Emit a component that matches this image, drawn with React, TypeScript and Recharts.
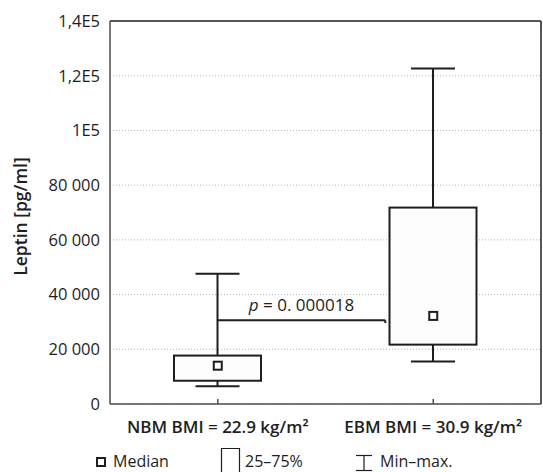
import { ComposedChart, Bar, Scatter, XAxis, YAxis, CartesianGrid, ReferenceLine, Legend } from "recharts";

const groups = ["NBM BMI = 22.9 kg/m²", "EBM BMI = 30.9 kg/m²"];
const groupPos = [1, 3];
const xDomain = [0, 4];
const minValues = [6500, 15500];
const q1Values = [8500, 21700];
const medianValues = [14000, 32200];
const q3Values = [17700, 71800];
const maxValues = [47600, 122600];

const yTicks = [0, 20000, 40000, 60000, 80000, 100000, 120000, 140000];
const yTickLabels = ["0", "20 000", "40 000", "60 000", "80 000", "1E5", "1,2E5", "1,4E5"];

const pText = " = 0. 000018";
const pLevel = 30600;
const pEnd = 2.555;

const legendLabels = ["Median", "25–75%", "Min–max."];

const INK = "#1e1e1e";
const FRAME = "#4d4d4d";

const data = groups.map((name, i) => ({
  name,
  pos: groupPos[i],
  base: minValues[i],
  lower: q1Values[i] - minValues[i],
  box: q3Values[i] - q1Values[i],
  upper: maxValues[i] - q3Values[i],
  median: medianValues[i],
}));

const LowerWhisker = (props: any) => {
  const { x, y, width, height } = props;
  const cx = x + width / 2;
  return (
    <g>
      <line x1={cx} x2={cx} y1={y} y2={y + height} stroke={INK} strokeWidth={2} />
      <line x1={cx - 22} x2={cx + 22} y1={y + height} y2={y + height} stroke={INK} strokeWidth={2} />
    </g>
  );
};

const UpperWhisker = (props: any) => {
  const { x, y, width, height } = props;
  const cx = x + width / 2;
  return (
    <g>
      <line x1={cx} x2={cx} y1={y} y2={y + height} stroke={INK} strokeWidth={2} />
      <line x1={cx - 22} x2={cx + 22} y1={y} y2={y} stroke={INK} strokeWidth={2} />
    </g>
  );
};

const BoxShape = (props: any) => {
  const { x, y, width, height } = props;
  return <rect x={x} y={y} width={width} height={height} fill="#fdfdfd" stroke={INK} strokeWidth={2} />;
};

const MedianMark = (props: any) => {
  const { cx, cy } = props;
  return <rect x={cx - 4} y={cy - 4} width={8} height={8} fill="#fff" stroke={INK} strokeWidth={2} />;
};

const EmptyTick = () => <g />;

const GroupTick = (props: any) => {
  const { x, y, payload } = props;
  const i = groupPos.indexOf(payload.value);
  return (
    <g>
      <line x1={x} x2={x} y1={y} y2={y - 5} stroke={FRAME} strokeWidth={1.5} />
      <text x={x} y={y + 29} textAnchor="middle" fontSize={17} fontWeight={600} fill={INK}>
        {groups[i]}
      </text>
    </g>
  );
};

const YLabel = (props: any) => {
  const { viewBox } = props;
  const cy = viewBox.y + viewBox.height / 2 + 4;
  return (
    <text x={27} y={cy} transform={`rotate(-90 27 ${cy})`} textAnchor="middle" fontSize={17.5} fontWeight={600} fill={INK}>
      Leptin [pg/ml]
    </text>
  );
};

const PLabel = (props: any) => {
  const { viewBox } = props;
  const cx = viewBox.x + viewBox.width / 2;
  return (
    <text x={cx} y={viewBox.y - 9} textAnchor="middle" fontSize={17} fill={INK}>
      <tspan fontStyle="italic">p</tspan>
      {pText}
    </text>
  );
};

const LegendContent = () => (
  <div style={{ position: "relative", height: 33, color: INK }}>
    <svg width={543} height={33} style={{ position: "absolute", left: 0, top: 0, overflow: "visible" }}>
      <rect x={97} y={19} width={8} height={8} fill="#fff" stroke={INK} strokeWidth={2} />
      <path d="M221.5 34 V9.5 H239.5 V34" fill="none" stroke={INK} strokeWidth={1.2} />
      <line x1={356} x2={372} y1={16.5} y2={16.5} stroke={INK} strokeWidth={1.2} />
      <line x1={364} x2={364} y1={16.5} y2={31.5} stroke={INK} strokeWidth={1.2} />
      <line x1={356} x2={372} y1={31.5} y2={31.5} stroke={INK} strokeWidth={1.2} />
      <text x={113} y={28} fontSize={16} fill={INK}>{legendLabels[0]}</text>
      <text x={245} y={28} fontSize={16} fill={INK}>{legendLabels[1]}</text>
      <text x={380} y={28} fontSize={16} fill={INK}>{legendLabels[2]}</text>
    </svg>
  </div>
);

export default function App() {
  return (
    <div style={{ position: "absolute", left: 0, top: 0, fontFamily: "'Open Sans', sans-serif" }}>
      <ComposedChart width={543} height={472} data={data} margin={{ top: 20, right: 1, bottom: 0, left: 0 }}>
        <CartesianGrid vertical={false} stroke="#b5b5b5" strokeDasharray="1 2" />
        <XAxis
          dataKey="pos"
          type="number"
          domain={xDomain}
          ticks={groupPos}
          interval={0}
          height={35}
          tickLine={false}
          tickSize={0}
          tickMargin={0}
          axisLine={{ stroke: FRAME, strokeWidth: 1.5 }}
          tick={<GroupTick />}
        />
        <XAxis
          xAxisId="top"
          orientation="top"
          type="number"
          domain={xDomain}
          ticks={groupPos}
          interval={0}
          height={1}
          tick={<EmptyTick />}
          tickSize={-5}
          tickLine={{ stroke: FRAME, strokeWidth: 1.5 }}
          axisLine={{ stroke: FRAME, strokeWidth: 1.5 }}
        />
        <YAxis
          type="number"
          domain={[0, 140000]}
          ticks={yTicks}
          interval={0}
          width={110}
          tickLine={false}
          tickSize={0}
          tickMargin={10}
          tickFormatter={(v: number) => yTickLabels[yTicks.indexOf(v)]}
          tick={{ fill: INK, fontSize: 16.5 }}
          axisLine={{ stroke: FRAME, strokeWidth: 1.5 }}
          label={<YLabel />}
        />
        <YAxis
          yAxisId="right"
          orientation="right"
          type="number"
          domain={[0, 140000]}
          ticks={yTicks}
          interval={0}
          width={1}
          tick={<EmptyTick />}
          tickSize={-5}
          tickLine={{ stroke: FRAME, strokeWidth: 1.5 }}
          axisLine={{ stroke: FRAME, strokeWidth: 1.5 }}
        />
        <ReferenceLine x={xDomain[1]} stroke={FRAME} strokeWidth={1.5} />
        <ReferenceLine y={yTicks[yTicks.length - 1]} stroke={FRAME} strokeWidth={1.5} />
        <Bar dataKey="base" stackId="b" barSize={87} fill="none" isAnimationActive={false} shape={() => <g />} />
        <Bar dataKey="lower" stackId="b" barSize={87} isAnimationActive={false} shape={<LowerWhisker />} />
        <Bar dataKey="box" stackId="b" barSize={87} isAnimationActive={false} shape={<BoxShape />} />
        <Bar dataKey="upper" stackId="b" barSize={87} isAnimationActive={false} shape={<UpperWhisker />} />
        <ReferenceLine
          segment={[{ x: groupPos[0], y: pLevel }, { x: pEnd, y: pLevel }]}
          stroke={INK}
          strokeWidth={2}
          label={<PLabel />}
        />
        <ReferenceLine
          segment={[{ x: pEnd, y: pLevel }, { x: pEnd, y: pLevel - 1000 }]}
          stroke={INK}
          strokeWidth={2}
        />
        <Scatter dataKey="median" isAnimationActive={false} shape={<MedianMark />} />
        <Legend verticalAlign="bottom" height={33} content={<LegendContent />} wrapperStyle={{ left: 0, width: 543 }} />
      </ComposedChart>
    </div>
  );
}
